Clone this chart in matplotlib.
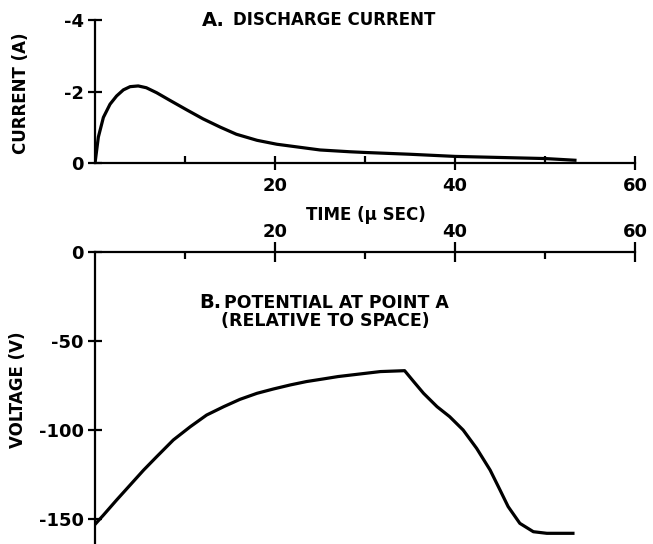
import matplotlib.pyplot as plt
from matplotlib.ticker import FixedLocator

plt.rcParams['font.family'] = ['DejaVu Sans']
plt.rcParams['font.weight'] = 'bold'
plt.rcParams['axes.unicode_minus'] = False

######################## Data ########################
# A. discharge current (A) against time (micro seconds)
current_t = [0, 0.37, 0.93, 1.67, 2.4, 3.15, 3.9, 4.8, 5.7, 6.85, 8.3, 10.2,
             12.0, 13.9, 15.7, 18.0, 20.2, 21.7, 25, 28.3, 30, 35, 40, 45,
             50, 53.5]
current_a = [0, -0.73, -1.28, -1.65, -1.88, -2.05, -2.14, -2.16, -2.11,
             -1.97, -1.76, -1.49, -1.24, -1.01, -0.81, -0.64, -0.53, -0.48,
             -0.37, -0.32, -0.3, -0.25, -0.19, -0.16, -0.13, -0.08]

# B. potential at point A (V) against time (micro seconds)
volt_t = [0, 0.93, 2.4, 3.9, 5.4, 6.85, 8.7, 10.6, 12.4, 14.3, 16.1, 18.0,
          19.8, 21.7, 23.5, 25.4, 27.0, 31.7, 34.4, 35.4, 36.5, 38.0, 39.4,
          40.9, 42.4, 43.9, 45.0, 45.9, 47.2, 48.7, 50.2, 53.1]
volt_v = [-153, -147.8, -139.3, -130.9, -122.5, -115, -105.6, -98.1, -91.6,
          -86.9, -82.8, -79.4, -77, -74.7, -72.8, -71.3, -70, -67.2, -66.7,
          -72.8, -79.4, -86.9, -92.5, -100, -110.3, -122.5, -133.7, -143,
          -152.4, -157.1, -158, -158]

time_major = [20, 40, 60]
time_minor = [10, 30, 50]
current_ticks = [-4, -2, 0]
current_labels = ['-4', '-2', '0']
volt_ticks = [0, -50, -100, -150]
volt_labels = ['0', '-50', '-100', '-150']
#############################################################################

fig = plt.figure(figsize=(6.53, 5.44), dpi=100)
ax_a = fig.add_axes([0.1455, 0.700, 0.827, 0.263])
ax_b = fig.add_axes([0.1455, 0.0, 0.827, 0.537])

lw_spine = 1.6
for ax in (ax_a, ax_b):
    for s in ax.spines.values():
        s.set_linewidth(lw_spine)
    ax.set_xlim(0, 60)
    ax.xaxis.set_major_locator(FixedLocator(time_major))
    ax.xaxis.set_minor_locator(FixedLocator(time_minor))
    ax.tick_params(axis='both', which='major', direction='inout', width=lw_spine,
                   labelsize=13)
    ax.tick_params(axis='x', which='minor', direction='in', width=lw_spine, length=5)
    ax.tick_params(axis='y', which='major', length=10, pad=3)

# ---- top panel: discharge current ----
ax_a.plot(current_t, current_a, color='black', linewidth=2.3, solid_capstyle='butt')
ax_a.set_ylim(0, -4)
ax_a.set_yticks(current_ticks)
ax_a.set_yticklabels(current_labels)
ax_a.spines['top'].set_visible(False)
ax_a.spines['right'].set_visible(False)
ax_a.tick_params(axis='x', which='major', length=10, pad=5)
ax_a.set_ylabel('CURRENT (A)', fontsize=12, fontweight='bold')
ax_a.yaxis.set_label_coords(-0.12, 0.49)
ax_a.set_xlabel('TIME (\u03bc SEC)', fontsize=12, fontweight='bold')
ax_a.xaxis.set_label_coords((366 - 95) / 540, -0.30)

# ---- bottom panel: potential ----
ax_b.plot(volt_t, volt_v, color='black', linewidth=2.3)
ax_b.set_ylim(-164, 0)
ax_b.set_yticks(volt_ticks)
ax_b.set_yticklabels(volt_labels)
ax_b.spines['bottom'].set_visible(False)
ax_b.spines['right'].set_visible(False)
ax_b.xaxis.tick_top()
ax_b.tick_params(axis='x', which='major', length=14, pad=1)
ax_b.set_ylabel('VOLTAGE (V)', fontsize=12, fontweight='bold')
ax_b.yaxis.set_label_coords(-0.126, 0.527)

# ---- panel titles ----
W, H = 653, 544
fig.text(202 / W, 1 - 20 / H, 'A.', fontsize=14, fontweight='bold', va='center')
fig.text(233 / W, 1 - 20 / H, 'DISCHARGE CURRENT', fontsize=12, fontweight='bold', va='center')
fig.text(199 / W, 1 - 303 / H, 'B.', fontsize=14, fontweight='bold', va='center')
fig.text(224 / W, 1 - 303 / H, 'POTENTIAL AT POINT A', fontsize=12.5, fontweight='bold', va='center')
fig.text(325 / W, 1 - 321 / H, '(RELATIVE TO SPACE)', fontsize=12.5, fontweight='bold',
         va='center', ha='center')

fig.savefig('out.png', dpi=100)
